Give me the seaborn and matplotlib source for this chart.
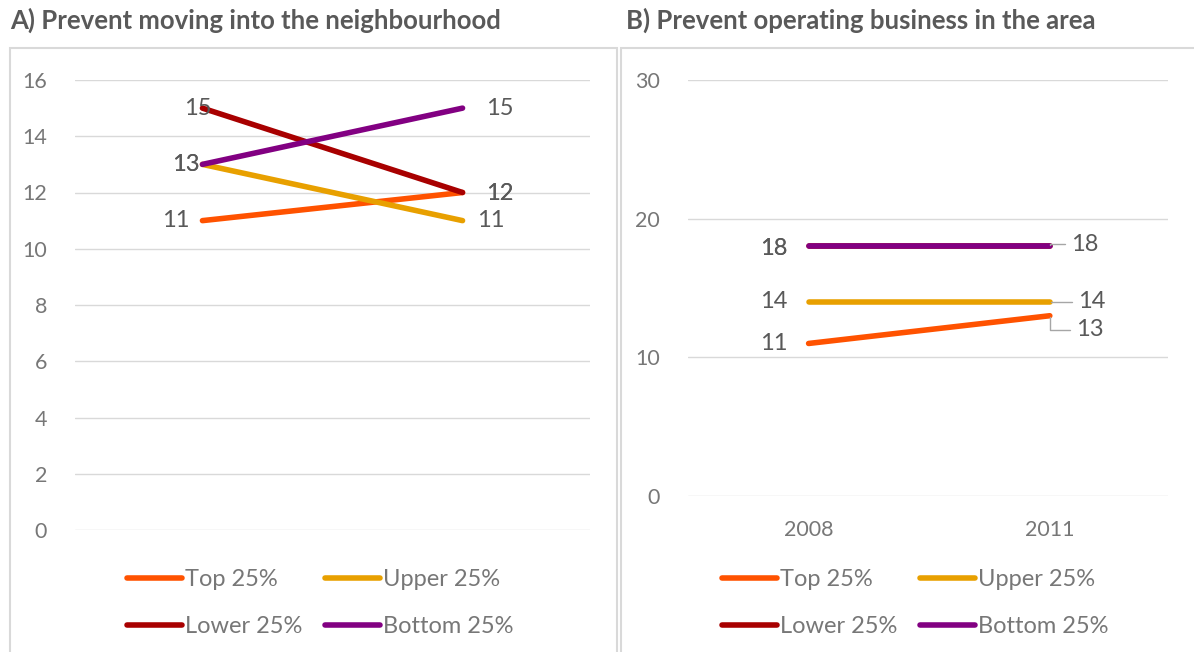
import numpy as np
import pandas as pd
import matplotlib.pyplot as plt
import seaborn as sns
from matplotlib.patches import Rectangle
from matplotlib.lines import Line2D

# data
years = ['2008', '2011']
groups = ['Top 25%', 'Upper 25%', 'Lower 25%', 'Bottom 25%']
moving_top = [11, 12]
moving_upper = [13, 11]
moving_lower = [15, 12]
moving_bottom = [13, 15]
business_top = [11, 13]
business_upper = [14, 14]
business_lower = [18, 18]
business_bottom = [18, 18]

colors = ['#FF5200', '#E8A000', '#A80000', '#820082']
dark = '#595959'
light = '#777777'

sns.set_style('white')
plt.rcParams['font.family'] = ['Lato', 'DejaVu Sans']

def make_df(series):
    rows = []
    for g, vals in zip(groups, series):
        for y, v in zip(years, vals):
            rows.append({'year': y, 'group': g, 'value': v})
    return pd.DataFrame(rows)

df_a = make_df([moving_top, moving_upper, moving_lower, moving_bottom])
df_b = make_df([business_top, business_upper, business_lower, business_bottom])

W, H = 1194, 652
fig = plt.figure(figsize=(W / 100, H / 100), dpi=100)

# panel frames
for x0, x1 in [(10, 617), (621, 1200)]:
    fig.patches.append(Rectangle((x0 / W, -0.05), (x1 - x0) / W, 1.05 - 48 / H,
                                 transform=fig.transFigure, fill=False,
                                 edgecolor='#d9d9d9', lw=1.5))

fig.text(10 / W, 1 - 20 / H, 'A) Prevent moving into the neighbourhood',
         fontsize=18.5, fontweight='bold', color=dark, va='center', ha='left')
fig.text(626 / W, 1 - 20 / H, 'B) Prevent operating business in the area',
         fontsize=18.5, fontweight='bold', color=dark, va='center', ha='left')

ax_a = fig.add_axes([75 / W, 1 - 530 / H, (590 - 75) / W, 450 / H])
ax_b = fig.add_axes([688 / W, 1 - 496 / H, (1168 - 688) / W, 416 / H])

pal = dict(zip(groups, colors))
# draw lower first in B so bottom sits on top
order_b = ['Lower 25%', 'Top 25%', 'Upper 25%', 'Bottom 25%']
for ax, df, order in [(ax_a, df_a, groups), (ax_b, df_b, order_b)]:
    for g in order:
        d = df[df.group == g]
        sns.lineplot(data=d, x='year', y='value', color=pal[g], lw=4,
                     ax=ax, legend=False, solid_capstyle='round')
    for s in ax.spines.values():
        s.set_visible(False)
    ax.grid(axis='y', color='#d9d9d9', lw=1)
    ax.grid(axis='x', visible=False)
    ax.set_xlabel('')
    ax.set_ylabel('')
    ax.tick_params(length=0, labelsize=15.5, labelcolor=light)

ax_a.set_xlim(-0.49, 1.49)
ax_a.set_ylim(0, 16)
ax_a.set_yticks(np.arange(0, 17, 2))
ax_a.tick_params(axis='y', pad=20)
ax_a.tick_params(axis='x', labelbottom=False)

ax_b.set_xlim(-0.5, 1.49)
ax_b.set_ylim(0, 30)
ax_b.set_yticks([0, 10, 20, 30])
ax_b.tick_params(axis='y', pad=20)
ax_b.tick_params(axis='x', pad=17)

lab_size = 17

# data labels: (series, x index, dx, dy) in pixels
labels_a = [(moving_top, 0, -27, 0), (moving_upper, 0, -17, 0),
            (moving_lower, 0, -5, 0), (moving_bottom, 0, -17, 0),
            (moving_top, 1, 37, -1), (moving_upper, 1, 28, 0),
            (moving_lower, 1, 37, -1), (moving_bottom, 1, 37, 0)]
for vals, i, dx, dy in labels_a:
    ax_a.annotate(str(vals[i]), (i, vals[i]), xytext=(dx, dy),
                  textcoords='offset pixels', ha='center', va='center',
                  fontsize=lab_size, color=dark)

labels_b = [(business_top, 0, -35, 0), (business_upper, 0, -35, 0),
            (business_lower, 0, -35, -2), (business_bottom, 0, -35, -2)]
for vals, i, dx, dy in labels_b:
    ax_b.annotate(str(vals[i]), (i, vals[i]), xytext=(dx, dy),
                  textcoords='offset pixels', ha='center', va='center',
                  fontsize=lab_size, color=dark)

leader = dict(arrowstyle='-', color='#a6a6a6', lw=1,
              connectionstyle='angle,angleA=0,angleB=90,rad=0',
              shrinkA=2, shrinkB=1)
labels_b_right = [(business_bottom, 35, 2), (business_upper, 42, 0),
                  (business_top, 40, -14)]
for vals, dx, dy in labels_b_right:
    ax_b.annotate(str(vals[1]), (1, vals[1]), xytext=(dx, dy),
                  textcoords='offset pixels', ha='center', va='center',
                  fontsize=lab_size, color=dark, arrowprops=leader)

# legends (matplotlib fills columns first, so reorder to read row by row)
handles = [Line2D([], [], color=c, lw=4, solid_capstyle='round') for c in colors]
idx = [0, 2, 1, 3]
for cx in [320, 915]:
    fig.legend([handles[i] for i in idx], [groups[i] for i in idx], ncol=2,
               loc='center', bbox_to_anchor=(cx / W, 1 - 603 / H), frameon=False,
               fontsize=17, labelcolor=light, handlelength=2.35,
               handletextpad=0.12, columnspacing=0.95, labelspacing=1.1)

fig.savefig('out.png', dpi=100)
